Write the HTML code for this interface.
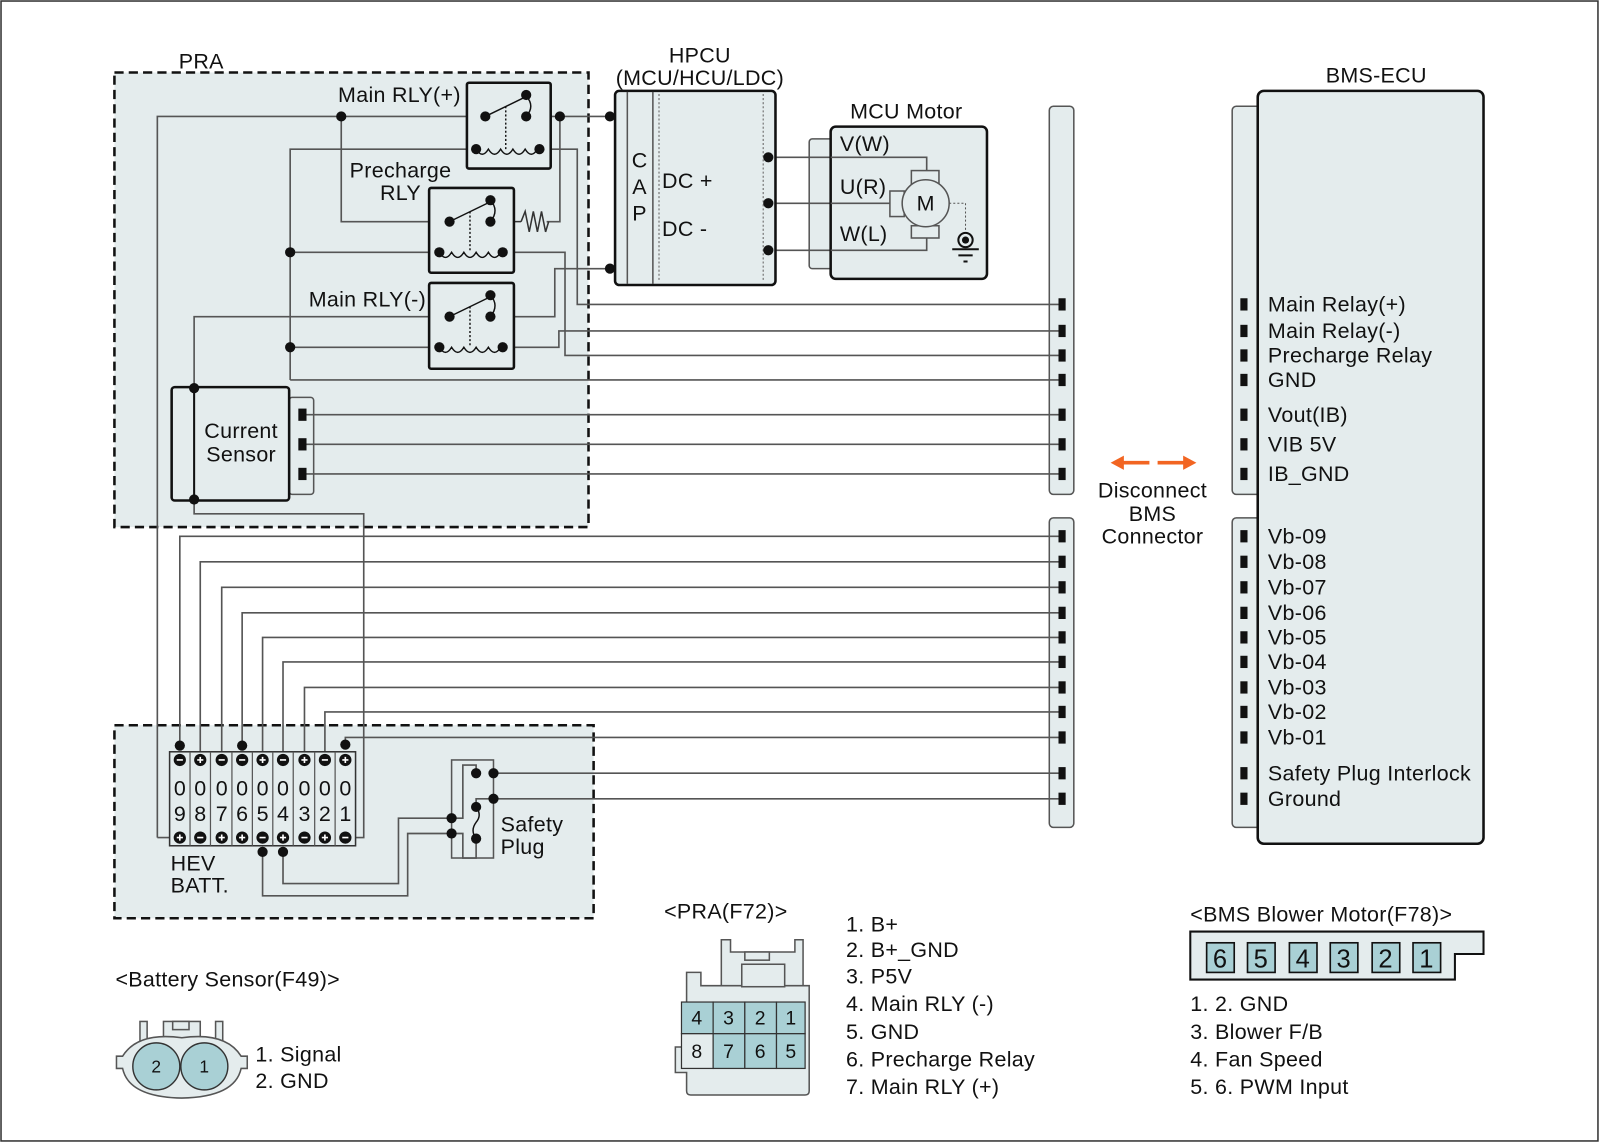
<!DOCTYPE html>
<html><head><meta charset="utf-8"><style>html,body{margin:0;padding:0;background:#fff}svg{display:block}</style></head><body>
<svg width="1600" height="1143" viewBox="0 0 1566 1119" preserveAspectRatio="none" xmlns="http://www.w3.org/2000/svg" font-family="Liberation Sans, sans-serif" font-size="21" letter-spacing="0.3" fill="#111">
<rect x="1" y="1" width="1563" height="1116" fill="#fff" stroke="#333" stroke-width="1.5"/>
<rect x="112" y="71" width="464" height="445" fill="#e4eced" stroke="#111" stroke-width="2.5" stroke-dasharray="9,5"/>
<rect x="112" y="710" width="469" height="189" fill="#e4eced" stroke="#111" stroke-width="2.5" stroke-dasharray="9,5"/>
<text x="175" y="67">PRA</text>

<g fill="#e4eced" stroke="#555" stroke-width="1.5">
<rect x="1027" y="104" width="24" height="380" rx="4"/>
<rect x="1027" y="507" width="24" height="303" rx="4"/>
<rect x="1206" y="104" width="30" height="380" rx="4"/>
<rect x="1206" y="507" width="30" height="303" rx="4"/>
<rect x="283" y="389" width="24" height="95" rx="3"/>
<rect x="792" y="136" width="30" height="127" rx="3"/>
</g>
<rect x="1231" y="89" width="221" height="737" rx="6" fill="#e4eced" stroke="#111" stroke-width="2.5"/>
<text x="1347" y="81" text-anchor="middle">BMS-ECU</text>

<g fill="none" stroke="#555" stroke-width="1.6">
<path d="M154 820 V114 H475 M515 114 H597 M548 114 V217 H535"/>
<path d="M334 114 V217 H440"/>
<path d="M284 372 V146 H466 M528 146 H565 V298 H1036"/>
<path d="M284 247 H430 M492 247 H553 V348 H1036"/>
<path d="M284 340 H430 M492 340 H547 V324 H1036"/>
<path d="M284 372 H1036"/>
<path d="M190 380 V310 H440 M480 310 H543 V263 H597"/>
<path d="M190 489 V503 H356 V820 H338"/>
<path d="M300 406 H1036 M300 435 H1036 M300 464 H1036"/>
<path d="M154 820 H176"/>
<path d="M176 730 V525 H1036 M196 744 V550 H1036 M217 744 V575 H1036 M237 730 V600 H1036 M257 744 V624 H1036 M277 744 V648 H1036 M298 744 V673 H1036 M318 744 V697 H1036 M338 729 V722 H1036"/>
<path d="M257 834 V877 H399 V816 H442 M277 834 V865 H390 V801 H442"/>
<path d="M483 757 H1036 M483 782 H1036"/>
<path d="M442 801 H453 V749 H466 V757 M442 816 H453 V840 H466 V821 M466 790 V782 H483"/>
<path d="M752 154 H907 V167 M752 199 H871 M752 245 H907 V233"/>
</g>
<path d="M510 217 L514 207 L518 227 L522 207 L526 227 L530 207 L534 227 L537 217" fill="none" stroke="#333" stroke-width="1.5"/>
<path d="M481 217 H510" stroke="#333" stroke-width="1.5"/>

<g fill="#e4eced" stroke="#111" stroke-width="2.5">
<rect x="457" y="81" width="82" height="84" rx="2"/>
<rect x="420" y="184" width="83" height="83" rx="2"/>
<rect x="420" y="277" width="83" height="84" rx="2"/>
</g>
<g fill="none" stroke="#111" stroke-width="1.4">
<path d="M475 114 L512 96 M515 94 Q524 104 515 114" /><path d="M495 104 V146" stroke-dasharray="2,2"/>
<path d="M466 146 q6 10 12 0 q6 10 12 0 q6 10 12 0 q6 10 12 0 q6 10 12 0"/>
<path d="M440 217 L477 199 M480 196 Q489 206 480 217"/><path d="M460 207 V247" stroke-dasharray="2,2"/>
<path d="M430 247 q6 10 12 0 q6 10 12 0 q6 10 12 0 q6 10 12 0 q6 10 12 0"/>
<path d="M440 310 L477 292 M480 289 Q489 299 480 310"/><path d="M460 300 V340" stroke-dasharray="2,2"/>
<path d="M430 340 q6 10 12 0 q6 10 12 0 q6 10 12 0 q6 10 12 0 q6 10 12 0"/>
</g>
<text x="451" y="100" text-anchor="end">Main RLY(+)</text>
<text x="392" y="174" text-anchor="middle">Precharge</text>
<text x="392" y="196" text-anchor="middle">RLY</text>
<text x="417" y="300" text-anchor="end">Main RLY(-)</text>

<rect x="168" y="379" width="115" height="111" rx="3" fill="#e4eced" stroke="#111" stroke-width="2.5"/>
<path d="M190 379 V490" stroke="#111" stroke-width="2"/>
<circle cx="190" cy="380" r="5"/><circle cx="190" cy="489" r="5"/>
<text x="236" y="429" text-anchor="middle">Current</text>
<text x="236" y="452" text-anchor="middle">Sensor</text>
<g fill="#111"><rect x="292" y="400" width="8" height="12"/><rect x="292" y="429" width="8" height="12"/><rect x="292" y="458" width="8" height="12"/></g>

<text x="685" y="61" text-anchor="middle">HPCU</text>
<text x="685" y="83" text-anchor="middle">(MCU/HCU/LDC)</text>
<rect x="602" y="89" width="157" height="190" rx="4" fill="#e4eced" stroke="#111" stroke-width="2.5"/>
<path d="M614 90 V278 M639 90 V278" stroke="#555" stroke-width="1.5"/>
<path d="M645 92 V276 M747 92 V276" stroke="#777" stroke-width="1.2" stroke-dasharray="2,2"/>
<text x="626" y="164" text-anchor="middle">C</text><text x="626" y="190" text-anchor="middle">A</text><text x="626" y="216" text-anchor="middle">P</text>
<text x="648" y="184">DC +</text><text x="648" y="231">DC -</text>

<g fill="#111">
<circle cx="475" cy="114" r="5"/><circle cx="515" cy="93" r="5"/><circle cx="515" cy="114" r="5"/><circle cx="466" cy="146" r="5"/><circle cx="528" cy="146" r="5"/><circle cx="548" cy="114" r="5"/><circle cx="334" cy="114" r="5"/>
<circle cx="440" cy="217" r="5"/><circle cx="480" cy="196" r="5"/><circle cx="480" cy="217" r="5"/><circle cx="430" cy="247" r="5"/><circle cx="492" cy="247" r="5"/><circle cx="284" cy="247" r="5"/>
<circle cx="440" cy="310" r="5"/><circle cx="480" cy="289" r="5"/><circle cx="480" cy="310" r="5"/><circle cx="430" cy="340" r="5"/><circle cx="492" cy="340" r="5"/><circle cx="284" cy="340" r="5"/>
<circle cx="597" cy="114" r="5"/><circle cx="597" cy="263" r="5"/>
<circle cx="752" cy="154" r="5"/><circle cx="752" cy="199" r="5"/><circle cx="752" cy="245" r="5"/>
</g>

<text x="887" y="116" text-anchor="middle">MCU Motor</text>
<rect x="813" y="124" width="153" height="149" rx="5" fill="#e4eced" stroke="#111" stroke-width="2.5"/>
<g fill="none" stroke="#555" stroke-width="1.6"><path d="M813 154 H907 V167 M813 199 H871 M813 245 H907 V233"/></g>
<text x="822" y="148">V(W)</text><text x="822" y="190">U(R)</text><text x="822" y="236">W(L)</text>
<g fill="#e4eced" stroke="#555" stroke-width="1.5">
<rect x="892" y="167" width="27" height="16"/><rect x="892" y="221" width="27" height="12"/><rect x="871" y="187" width="14" height="25"/>
<circle cx="906" cy="199" r="23"/>
</g>
<text x="906" y="206" text-anchor="middle">M</text>
<path d="M929 199 H945 V226" fill="none" stroke="#555" stroke-dasharray="2,2"/>
<circle cx="945" cy="235" r="7" fill="none" stroke="#111" stroke-width="2"/><circle cx="945" cy="235" r="3.5" fill="#111"/>
<path d="M932 244 H958 M938 250 H952 M943 256 H947" stroke="#111" stroke-width="2"/>

<g fill="#111">
<rect x="1036" y="292" width="7" height="12"/><rect x="1036" y="318" width="7" height="12"/><rect x="1036" y="342" width="7" height="12"/><rect x="1036" y="366" width="7" height="12"/><rect x="1036" y="400" width="7" height="12"/><rect x="1036" y="429" width="7" height="12"/><rect x="1036" y="458" width="7" height="12"/>
<rect x="1036" y="519" width="7" height="12"/><rect x="1036" y="544" width="7" height="12"/><rect x="1036" y="569" width="7" height="12"/><rect x="1036" y="594" width="7" height="12"/><rect x="1036" y="618" width="7" height="12"/><rect x="1036" y="642" width="7" height="12"/><rect x="1036" y="667" width="7" height="12"/><rect x="1036" y="691" width="7" height="12"/><rect x="1036" y="716" width="7" height="12"/><rect x="1036" y="751" width="7" height="12"/><rect x="1036" y="776" width="7" height="12"/>
<rect x="1214" y="292" width="7" height="12"/><rect x="1214" y="318" width="7" height="12"/><rect x="1214" y="342" width="7" height="12"/><rect x="1214" y="366" width="7" height="12"/><rect x="1214" y="400" width="7" height="12"/><rect x="1214" y="429" width="7" height="12"/><rect x="1214" y="458" width="7" height="12"/>
<rect x="1214" y="519" width="7" height="12"/><rect x="1214" y="544" width="7" height="12"/><rect x="1214" y="569" width="7" height="12"/><rect x="1214" y="594" width="7" height="12"/><rect x="1214" y="618" width="7" height="12"/><rect x="1214" y="642" width="7" height="12"/><rect x="1214" y="667" width="7" height="12"/><rect x="1214" y="691" width="7" height="12"/><rect x="1214" y="716" width="7" height="12"/><rect x="1214" y="751" width="7" height="12"/><rect x="1214" y="776" width="7" height="12"/>
</g>
<g>
<text x="1241" y="305">Main Relay(+)</text><text x="1241" y="331">Main Relay(-)</text><text x="1241" y="355">Precharge Relay</text><text x="1241" y="379">GND</text><text x="1241" y="413">Vout(IB)</text><text x="1241" y="442">VIB 5V</text><text x="1241" y="471">IB_GND</text>
<text x="1241" y="532">Vb-09</text><text x="1241" y="557">Vb-08</text><text x="1241" y="582">Vb-07</text><text x="1241" y="607">Vb-06</text><text x="1241" y="631">Vb-05</text><text x="1241" y="655">Vb-04</text><text x="1241" y="680">Vb-03</text><text x="1241" y="704">Vb-02</text><text x="1241" y="729">Vb-01</text><text x="1241" y="764">Safety Plug Interlock</text><text x="1241" y="789">Ground</text>
</g>
<g fill="#f26522" stroke="#f26522">
<path d="M1097 453 H1125" stroke-width="3.5"/><path d="M1087 453 L1100 446 L1100 460 Z" stroke="none"/>
<path d="M1133 453 H1161" stroke-width="3.5"/><path d="M1171 453 L1158 446 L1158 460 Z" stroke="none"/>
</g>
<text x="1128" y="487" text-anchor="middle">Disconnect</text><text x="1128" y="510" text-anchor="middle">BMS</text><text x="1128" y="532" text-anchor="middle">Connector</text>

<rect x="166" y="736" width="182" height="92" fill="#e4eced" stroke="#333" stroke-width="1.5"/>
<g stroke="#555" stroke-width="1.2">
<path d="M186 736 V828 M206 736 V828 M227 736 V828 M247 736 V828 M267 736 V828 M287 736 V828 M308 736 V828 M328 736 V828"/>
</g>
<g font-size="21" text-anchor="middle" letter-spacing="0">
<text x="176" y="779">0</text><text x="196" y="779">0</text><text x="217" y="779">0</text><text x="237" y="779">0</text><text x="257" y="779">0</text><text x="277" y="779">0</text><text x="298" y="779">0</text><text x="318" y="779">0</text><text x="338" y="779">0</text>
<text x="176" y="804">9</text><text x="196" y="804">8</text><text x="217" y="804">7</text><text x="237" y="804">6</text><text x="257" y="804">5</text><text x="277" y="804">4</text><text x="298" y="804">3</text><text x="318" y="804">2</text><text x="338" y="804">1</text>
</g>
<g fill="#111">
<circle cx="176" cy="744" r="6"/><circle cx="196" cy="744" r="6"/><circle cx="217" cy="744" r="6"/><circle cx="237" cy="744" r="6"/><circle cx="257" cy="744" r="6"/><circle cx="277" cy="744" r="6"/><circle cx="298" cy="744" r="6"/><circle cx="318" cy="744" r="6"/><circle cx="338" cy="744" r="6"/>
<circle cx="176" cy="820" r="6"/><circle cx="196" cy="820" r="6"/><circle cx="217" cy="820" r="6"/><circle cx="237" cy="820" r="6"/><circle cx="257" cy="820" r="6"/><circle cx="277" cy="820" r="6"/><circle cx="298" cy="820" r="6"/><circle cx="318" cy="820" r="6"/><circle cx="338" cy="820" r="6"/>
<circle cx="176" cy="730" r="5"/><circle cx="237" cy="730" r="5"/><circle cx="338" cy="729" r="5"/>
<circle cx="257" cy="834" r="5"/><circle cx="277" cy="834" r="5"/>
</g>
<g stroke="#fff" stroke-width="1.6">
<path d="M173 744h6 M193 744h6 M196 741v6 M214 744h6 M234 744h6 M254 744h6 M257 741v6 M274 744h6 M295 744h6 M298 741v6 M315 744h6 M335 744h6 M338 741v6"/>
<path d="M173 820h6 M176 817v6 M193 820h6 M214 820h6 M217 817v6 M234 820h6 M237 817v6 M254 820h6 M274 820h6 M277 817v6 M295 820h6 M315 820h6 M318 817v6 M335 820h6"/>
</g>
<text x="167" y="852">HEV</text><text x="167" y="874">BATT.</text>

<rect x="442" y="744" width="41" height="96" fill="none" stroke="#555" stroke-width="1.5"/>
<path d="M466 790 q6 8 0 15 q-6 8 0 16" fill="none" stroke="#111" stroke-width="1.4"/>
<g fill="#111"><circle cx="466" cy="757" r="5"/><circle cx="483" cy="757" r="5"/><circle cx="483" cy="782" r="5"/><circle cx="466" cy="790" r="5"/><circle cx="466" cy="821" r="5"/><circle cx="442" cy="801" r="5"/><circle cx="442" cy="816" r="5"/></g>
<text x="490" y="814">Safety</text><text x="490" y="836">Plug</text>

<text x="650" y="899">&lt;PRA(F72)&gt;</text>
<g fill="#e4eced" stroke="#555" stroke-width="1.5">
<path d="M672 1068 V1050 H661 V1025 H672 V952 H686 V965 H714 V962 H766 V965 H792 V1068 Q792 1072 788 1072 H676 Q672 1072 672 1068 Z"/>
<path d="M706 920 H715 V932 H778 V920 H786 V965 H706 Z"/>
<rect x="729" y="932" width="24" height="8"/>
<rect x="726" y="944" width="42" height="22"/>
</g>
<g stroke="#333" stroke-width="1.2">
<rect x="667" y="981" width="31" height="31" fill="#a9d0d5"/><rect x="698" y="981" width="31" height="31" fill="#a9d0d5"/><rect x="729" y="981" width="31" height="31" fill="#a9d0d5"/><rect x="760" y="981" width="28" height="31" fill="#a9d0d5"/>
<rect x="667" y="1012" width="31" height="34" fill="#e4eced"/><rect x="698" y="1012" width="31" height="34" fill="#a9d0d5"/><rect x="729" y="1012" width="31" height="34" fill="#a9d0d5"/><rect x="760" y="1012" width="28" height="34" fill="#a9d0d5"/>
</g>
<g font-size="19" text-anchor="middle" letter-spacing="0">
<text x="682" y="1003">4</text><text x="713" y="1003">3</text><text x="744" y="1003">2</text><text x="774" y="1003">1</text>
<text x="682" y="1036">8</text><text x="713" y="1036">7</text><text x="744" y="1036">6</text><text x="774" y="1036">5</text>
</g>
<g>
<text x="828" y="912">1. B+</text><text x="828" y="937">2. B+_GND</text><text x="828" y="963">3. P5V</text><text x="828" y="990">4. Main RLY (-)</text><text x="828" y="1017">5. GND</text><text x="828" y="1044">6. Precharge Relay</text><text x="828" y="1071">7. Main RLY (+)</text>
</g>

<text x="113" y="966">&lt;Battery Sensor(F49)&gt;</text>
<g fill="#e4eced" stroke="#555" stroke-width="1.5">
<rect x="137" y="1000" width="7" height="25"/><rect x="211" y="1000" width="7" height="25"/>
<rect x="160" y="1000" width="36" height="24"/><rect x="169" y="1000" width="16" height="8"/>
<path d="M120 1034 Q135 1010 178 1016 Q221 1010 236 1034 H242 V1046 H236 Q230 1074 178 1075 Q126 1074 120 1046 H114 V1034 Z"/>
</g>
<circle cx="153" cy="1044" r="23" fill="#a9d0d5" stroke="#333" stroke-width="1.4"/>
<circle cx="200" cy="1044" r="23" fill="#a9d0d5" stroke="#333" stroke-width="1.4"/>
<text x="153" y="1050" font-size="17" text-anchor="middle">2</text><text x="200" y="1050" font-size="17" text-anchor="middle">1</text>
<text x="250" y="1039">1. Signal</text><text x="250" y="1065">2. GND</text>

<text x="1165" y="902">&lt;BMS Blower Motor(F78)&gt;</text>
<path d="M1165 912 H1452 V934 H1424 V959 H1165 Z" fill="#e4eced" stroke="#111" stroke-width="2"/>
<g fill="#a9d0d5" stroke="#111" stroke-width="1.6">
<rect x="1181" y="923" width="27" height="29"/><rect x="1221" y="923" width="27" height="29"/><rect x="1262" y="923" width="27" height="29"/><rect x="1302" y="923" width="27" height="29"/><rect x="1343" y="923" width="27" height="29"/><rect x="1383" y="923" width="27" height="29"/>
</g>
<g font-size="25" text-anchor="middle" letter-spacing="0">
<text x="1194" y="947">6</text><text x="1234" y="947">5</text><text x="1275" y="947">4</text><text x="1315" y="947">3</text><text x="1356" y="947">2</text><text x="1396" y="947">1</text>
</g>
<text x="1165" y="990">1. 2. GND</text><text x="1165" y="1017">3. Blower F/B</text><text x="1165" y="1044">4. Fan Speed</text><text x="1165" y="1071">5. 6. PWM Input</text>
</svg>
</body></html>
